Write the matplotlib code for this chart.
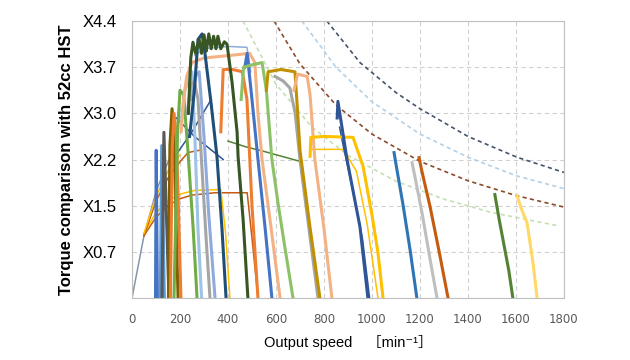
import matplotlib.pyplot as plt

# y values are in grid steps: 1 -> X0.7, 2 -> X1.5, ... 6 -> X4.4
ytick_labels = ['', 'X0.7', 'X1.5', 'X2.2', 'X3.0', 'X3.7', 'X4.4']
xticks = [0, 200, 400, 600, 800, 1000, 1200, 1400, 1600, 1800]

# dashed power curves
navy_dash_x = [812, 950, 1100, 1200, 1400, 1604, 1800]
navy_dash_y = [6.0, 5.1, 4.45, 4.1, 3.5, 3.05, 2.72]
ltblue_dash_x = [708, 850, 1000, 1200, 1400, 1600, 1800]
ltblue_dash_y = [6.0, 5.0, 4.25, 3.55, 3.05, 2.65, 2.37]
brown_dash_x = [592, 700, 850, 1000, 1200, 1400, 1600, 1800]
brown_dash_y = [6.0, 5.07, 4.18, 3.55, 2.96, 2.54, 2.22, 1.97]
ltgreen_dash_x = [463, 600, 750, 900, 1100, 1300, 1500, 1780]
ltgreen_dash_y = [6.0, 4.63, 3.7, 3.09, 2.53, 2.14, 1.85, 1.56]

# start-up curves
start_x = [0, 50, 100, 130, 180]
start_y = [0, 1.35, 2.3, 2.7, 3.3]
orange_low_x = [50, 100, 150, 200, 250, 346, 480, 500, 525]
orange_low_y = [1.35, 1.75, 2.0, 2.15, 2.23, 2.28, 2.28, 1.3, 0]
yellow_low_x = [50, 100, 150, 200, 260, 370, 390, 408]
yellow_low_y = [1.4, 1.85, 2.1, 2.25, 2.33, 2.35, 1.4, 0]
orange_up_x = [50, 100, 150, 200, 233, 280]
orange_up_y = [1.35, 2.1, 2.6, 2.95, 3.15, 3.2]
yellow_up_x = [50, 100, 150, 200]
yellow_up_y = [1.4, 2.2, 2.75, 3.1]
cross1_x = [185, 260, 380]
cross1_y = [3.9, 3.5, 3.0]
cross2_x = [170, 250, 330]
cross2_y = [3.0, 3.6, 4.3]

# left cluster
blue_spk_x = [98, 101, 106]
blue_spk_y = [0, 3.2, 0]
ltblue_spk_x = [118, 124, 135]
ltblue_spk_y = [0, 3.3, 0]
gray_spk_x = [125, 133, 154]
gray_spk_y = [0, 3.59, 0]
olive_x = [152, 158, 167, 175, 192]
olive_y = [0, 3.3, 4.1, 3.5, 0]
orange_spk_x = [160, 168, 175, 185, 204]
orange_spk_y = [0, 3.3, 4.0, 3.5, 0]
green_x = [175, 190, 200, 215, 233, 255, 271]
green_y = [0, 3.6, 4.5, 4.4, 3.2, 1.5, 0]
ltblue_a_x = [205, 220, 250, 262, 275, 290]
ltblue_a_y = [3.8, 4.5, 4.9, 3.5, 1.5, 0]
gray_x = [230, 245, 260, 275, 295, 310, 325]
gray_y = [4.0, 4.6, 4.7, 4.3, 2.5, 1.2, 0]
ltblue_b_x = [250, 265, 280, 300, 320, 346]
ltblue_b_y = [4.3, 4.8, 4.9, 3.5, 1.8, 0]
dkblue_x = [240, 260, 275, 292, 304, 330, 354, 375, 392]
dkblue_y = [3.5, 4.5, 5.6, 5.72, 5.3, 4.2, 3.07, 1.5, 0]
dkgreen_x = [235, 245, 254, 265, 280, 290, 300, 310, 320, 330, 340, 350,
             358, 370, 385, 396, 417, 438, 442, 463, 483]
dkgreen_y = [4.0, 5.2, 5.54, 5.3, 5.6, 5.3, 5.7, 5.35, 5.72, 5.4, 5.67, 5.4,
             5.67, 5.4, 5.55, 5.5, 4.67, 3.59, 3.07, 1.7, 0]
peach_x = [205, 215, 228, 250, 300, 400, 490, 512, 525, 542, 580, 617]
peach_y = [3.6, 4.3, 4.8, 5.1, 5.2, 5.25, 5.3, 5.1, 4.0, 3.0, 1.5, 0]
ltblue_top_x = [262, 300, 400, 479, 495]
ltblue_top_y = [5.25, 5.4, 5.45, 5.43, 4.9]
blue_x = [470, 480, 500, 525, 555, 583]
blue_y = [5.0, 5.3, 4.3, 3.0, 1.5, 0]
orange2_x = [370, 380, 420, 460, 479, 500, 525]
orange2_y = [3.6, 4.95, 4.95, 4.9, 4.3, 2.0, 0]

# middle cluster
green2_x = [455, 465, 500, 542, 560, 583, 610, 640, 671]
green2_y = [4.3, 5.0, 5.05, 5.1, 4.5, 3.0, 2.0, 1.0, 0]
gold_x = [560, 567, 620, 679, 688, 700, 740, 783]
gold_y = [4.5, 4.9, 4.95, 4.9, 4.2, 3.2, 1.6, 0]
gray2_x = [596, 630, 658, 680, 700, 740, 775]
gray2_y = [4.8, 4.7, 4.55, 4.0, 3.0, 1.4, 0]
peach2_x = [675, 690, 730, 742, 762, 800, 833]
peach2_y = [4.5, 4.85, 4.8, 4.4, 3.0, 1.5, 0]
olivegrn_x = [400, 471, 554, 700]
olivegrn_y = [3.4, 3.28, 3.17, 2.96]

# right side
yellow_r_x = [742, 745, 800, 921, 963, 1000, 1025, 1046]
yellow_r_y = [3.07, 3.48, 3.5, 3.48, 2.85, 1.8, 0.98, 0]
yellow_r2_x = [742, 880, 935, 980, 1025]
yellow_r2_y = [3.22, 3.22, 2.75, 1.6, 0]
dkblue_r_x = [855, 858, 875, 896, 950, 983]
dkblue_r_y = [3.9, 4.26, 3.7, 3.0, 1.54, 0]
dkblue_r2_x = [865, 880, 905, 960, 990]
dkblue_r2_y = [3.7, 3.3, 2.7, 1.3, 0]
blue_r_x = [1092, 1100, 1130, 1160, 1187]
blue_r_y = [3.15, 2.9, 2.0, 1.0, 0]
gray_r_x = [1167, 1180, 1210, 1240, 1271]
gray_r_y = [2.93, 2.6, 1.8, 0.9, 0]
orange_r_x = [1196, 1210, 1242, 1280, 1317]
orange_r_y = [3.04, 2.7, 1.98, 1.0, 0]
green_r_x = [1512, 1530, 1546, 1570, 1587]
green_r_y = [2.24, 1.7, 1.26, 0.6, 0]
yellow_rr_x = [1604, 1625, 1646, 1670, 1688]
yellow_rr_y = [2.22, 1.9, 1.63, 0.8, 0]

fig = plt.figure(figsize=(6.3, 3.6), dpi=100)
ax = fig.add_axes([0.2095, 0.1722, 0.6857, 0.7694])

# dashed
dash = (0, (2.5, 2))
ax.plot(ltgreen_dash_x, ltgreen_dash_y, ls=dash, color='#C5E0B4', lw=1.2)
ax.plot(brown_dash_x, brown_dash_y, ls=dash, color='#8B4A2B', lw=1.2)
ax.plot(ltblue_dash_x, ltblue_dash_y, ls=dash, color='#B4D0E6', lw=1.2)
ax.plot(navy_dash_x, navy_dash_y, ls=dash, color='#44546A', lw=1.2)

thin = [
    (start_x, start_y, '#8497B0'),
    (orange_low_x, orange_low_y, '#C55A11'),
    (yellow_low_x, yellow_low_y, '#FFC000'),
    (orange_up_x, orange_up_y, '#C55A11'),
    (yellow_up_x, yellow_up_y, '#FFC000'),
    (cross1_x, cross1_y, '#2F5597'),
    (cross2_x, cross2_y, '#2F5597'),
    (olivegrn_x, olivegrn_y, '#548235'),
    (ltblue_top_x, ltblue_top_y, '#8FAADC'),
    (yellow_r2_x, yellow_r2_y, '#FFC000'),
    (dkblue_r2_x, dkblue_r2_y, '#2F5597'),
]
for x, y, c in thin:
    ax.plot(x, y, color=c, lw=1.1)

thick = [
    (blue_spk_x, blue_spk_y, '#4472C4'),
    (ltblue_spk_x, ltblue_spk_y, '#5B9BD5'),
    (gray_spk_x, gray_spk_y, '#595959'),
    (olive_x, olive_y, '#7F6000'),
    (orange_spk_x, orange_spk_y, '#ED7D31'),
    (green_x, green_y, '#70AD47'),
    (ltblue_a_x, ltblue_a_y, '#9DC3E6'),
    (gray_x, gray_y, '#A5A5A5'),
    (ltblue_b_x, ltblue_b_y, '#8FAADC'),
    (peach_x, peach_y, '#F4B183'),
    (orange2_x, orange2_y, '#ED7D31'),
    (blue_x, blue_y, '#4472C4'),
    (dkblue_x, dkblue_y, '#1F4E79'),
    (dkgreen_x, dkgreen_y, '#375623'),
    (green2_x, green2_y, '#8CC168'),
    (gray2_x, gray2_y, '#A5A5A5'),
    (gold_x, gold_y, '#BF9000'),
    (peach2_x, peach2_y, '#F4B183'),
    (yellow_r_x, yellow_r_y, '#FFC000'),
    (dkblue_r_x, dkblue_r_y, '#2F5597'),
    (blue_r_x, blue_r_y, '#2E75B6'),
    (gray_r_x, gray_r_y, '#BFBFBF'),
    (orange_r_x, orange_r_y, '#C55A11'),
    (green_r_x, green_r_y, '#548235'),
    (yellow_rr_x, yellow_rr_y, '#FFD966'),
]
for x, y, c in thick:
    ax.plot(x, y, color=c, lw=2.2)

ax.set_xlim(0, 1800)
ax.set_ylim(0, 6)
ax.set_xticks(xticks)
ax.set_yticks(range(7))
ax.set_yticklabels(ytick_labels, fontsize=12, family='Liberation Sans')
ax.tick_params(axis='x', length=0, pad=11, labelsize=8.5, labelcolor='#595959')
ax.tick_params(axis='y', length=0, pad=11)
ax.grid(True, ls=(0, (4, 3)), color='#D0D0D0', lw=0.8)
ax.set_axisbelow(True)
for s in ax.spines.values():
    s.set_color('#BFBFBF')

ax.set_ylabel('Torque comparison with 52cc HST', fontsize=12, fontweight='bold',
              family='Liberation Sans', labelpad=6)
ax.set_xlabel('Output speed\u3000［min⁻¹］', fontsize=10.5,
              family=['Liberation Sans', 'DejaVu Sans', 'Noto Sans CJK JP'], labelpad=6)

fig.savefig('out.png', dpi=100)
